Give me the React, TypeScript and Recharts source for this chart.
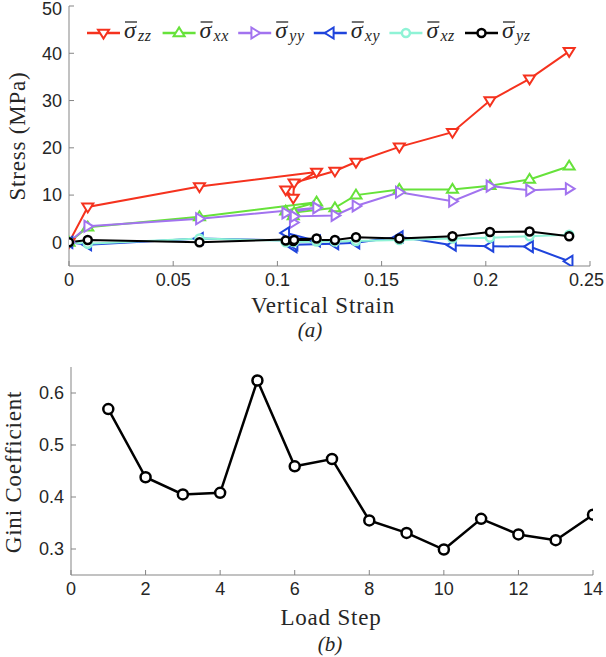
import React from 'react';
import { LineChart, Line, XAxis, YAxis } from 'recharts';

// ---------- Data: panel (a) ----------
const strain = [0, 0.009, 0.0626, 0.1188, 0.104, 0.1076, 0.108, 0.1276, 0.1377, 0.1585, 0.184, 0.202, 0.221, 0.24];
const sigmaZZ = [0, 7.5, 11.8, 14.9, 11.1, 9.4, 12.6, 15.1, 17.0, 20.2, 23.3, 30.0, 34.6, 40.4];
const sigmaXX = [0, 3.2, 5.4, 8.5, 6.6, 5.6, 6.3, 7.3, 10.0, 11.2, 11.2, 12.0, 13.3, 16.1];
const sigmaYY = [0, 3.4, 5.0, 7.3, 6.2, 4.2, 5.5, 5.7, 7.7, 10.6, 8.7, 11.9, 11.05, 11.35];
const sigmaXY = [0, -0.5, 0.8, 0.3, 2.0, -0.9, -0.5, -0.3, -0.1, 1.2, -0.6, -0.8, -0.9, -4.0];
const sigmaXZ = [0, -0.3, 0.8, 0.2, 0.0, 0.1, 0.1, 0.2, 0.3, 0.5, 0.8, 1.0, 1.3, 1.6];
const sigmaYZ = [0, 0.5, 0.0, 0.8, 0.4, 0.3, 0.5, 0.5, 1.1, 0.8, 1.3, 2.2, 2.3, 1.3];
const strainTicks = [0, 0.05, 0.1, 0.15, 0.2, 0.25];
const stressTicks = [0, 10, 20, 30, 40, 50];

// ---------- Data: panel (b) ----------
const loadSteps = [1, 2, 3, 4, 5, 6, 7, 8, 9, 10, 11, 12, 13, 14];
const gini = [0.569, 0.438, 0.405, 0.408, 0.624, 0.459, 0.473, 0.355, 0.331, 0.299, 0.358, 0.328, 0.317, 0.366];
const stepTicks = [0, 2, 4, 6, 8, 10, 12, 14];
const giniTicks = [0.3, 0.4, 0.5, 0.6];

const stressData = strain.map((s, i) => ({
  strain: s,
  zz: sigmaZZ[i],
  xx: sigmaXX[i],
  yy: sigmaYY[i],
  xy: sigmaXY[i],
  xz: sigmaXZ[i],
  yz: sigmaYZ[i],
}));
const giniData = loadSteps.map((s, i) => ({ step: s, gini: gini[i] }));

type Kind = 'down' | 'up' | 'right' | 'left' | 'circle';

const series: { key: string; sub: string; color: string; kind: Kind }[] = [
  { key: 'zz', sub: 'zz', color: '#f5321e', kind: 'down' },
  { key: 'xx', sub: 'xx', color: '#66e23a', kind: 'up' },
  { key: 'yy', sub: 'yy', color: '#a273ef', kind: 'right' },
  { key: 'xy', sub: 'xy', color: '#1f44dc', kind: 'left' },
  { key: 'xz', sub: 'xz', color: '#8ff3d6', kind: 'circle' },
  { key: 'yz', sub: 'yz', color: '#000000', kind: 'circle' },
];

const BOX = '#858585';
const TXT = '#262626';
const SANS = '"Liberation Sans", Arial, Helvetica, sans-serif';
const SERIF = '"Liberation Serif", "Times New Roman", serif';
const TICK_FS = 18;

function MarkerShape({ cx, cy, kind, color, s = 5.5, sw = 2 }: any) {
  if (cx == null || cy == null) return null;
  if (kind === 'circle') {
    return <circle cx={cx} cy={cy} r={s - 1.5} fill="#fff" stroke={color} strokeWidth={sw + 0.5} />;
  }
  let pts = '';
  if (kind === 'down') pts = `${cx - s},${cy - s * 0.6} ${cx + s},${cy - s * 0.6} ${cx},${cy + s}`;
  if (kind === 'up') pts = `${cx - s},${cy + s * 0.6} ${cx + s},${cy + s * 0.6} ${cx},${cy - s}`;
  if (kind === 'right') pts = `${cx - s * 0.6},${cy - s} ${cx - s * 0.6},${cy + s} ${cx + s},${cy}`;
  if (kind === 'left') pts = `${cx + s * 0.6},${cy - s} ${cx + s * 0.6},${cy + s} ${cx - s},${cy}`;
  return <polygon points={pts} fill="#fff" stroke={color} strokeWidth={sw} strokeLinejoin="miter" />;
}

const fmt = (v: number) => String(v);
const approxWidth = (s: string) =>
  s.split('').reduce((w, c) => w + (c === '.' ? 0.278 : 0.556), 0) * TICK_FS;

function XTick(p: any) {
  const label = fmt(p.payload.value);
  const hw = approxWidth(label) / 2;
  const x = Math.min(p.x, 604 - hw);
  return (
    <text x={x} y={p.y} dy="0.71em" textAnchor="middle" fontFamily={SANS} fontSize={TICK_FS} fill={TXT}>
      {label}
    </text>
  );
}

function YTick(p: any) {
  const label = fmt(p.payload.value);
  const y = Math.max(p.y, 9);
  return (
    <text x={p.x} y={y} dy="0.355em" textAnchor="end" fontFamily={SANS} fontSize={TICK_FS} fill={TXT}>
      {label}
    </text>
  );
}

const LEG_X0 = 87;
const LEG_PITCH = 75.6;
const LEG_Y = 33;

function Legend() {
  return (
    <svg width={606} height={60} style={{ position: 'absolute', left: 0, top: 0, pointerEvents: 'none' }}>
      {series.map((s, i) => {
        const x = LEG_X0 + i * LEG_PITCH;
        return (
          <g key={s.key}>
            <line x1={x} y1={LEG_Y} x2={x + 33} y2={LEG_Y} stroke={s.color} strokeWidth={2.5} />
            <MarkerShape cx={x + 16.5} cy={LEG_Y} kind={s.kind} color={s.color} />
            <line x1={x + 38} y1={LEG_Y - 11} x2={x + 50} y2={LEG_Y - 11} stroke={TXT} strokeWidth={1.3} />
            <text x={x + 37} y={LEG_Y + 5} fontFamily={SERIF} fontStyle="italic" fontSize={24} fill={TXT}>
              σ
            </text>
            <text
              x={x + 51}
              y={LEG_Y + 8}
              fontFamily={SERIF}
              fontStyle="italic"
              fontSize={16}
              letterSpacing={0.6}
              fill={TXT}
            >
              {s.sub}
            </text>
          </g>
        );
      })}
    </svg>
  );
}

const labelStyle: React.CSSProperties = {
  position: 'absolute',
  fontFamily: SERIF,
  fontSize: 23,
  letterSpacing: 0.8,
  color: TXT,
  whiteSpace: 'nowrap',
  transform: 'translate(-50%, -50%)',
  lineHeight: 1,
};

export default function App() {
  return (
    <div style={{ position: 'absolute', left: 0, top: 0, width: 606, height: 657, background: '#fff' }}>
      {/* Panel (a) */}
      <div style={{ position: 'absolute', left: 0, top: 0 }}>
        <LineChart width={606} height={345} data={stressData} margin={{ top: 6, right: 16, bottom: 0, left: 0 }}>
          <XAxis
            dataKey="strain"
            type="number"
            domain={[0, 0.25]}
            ticks={strainTicks}
            allowDataOverflow
            height={79}
            stroke={BOX}
            tickSize={-5}
            tickMargin={12}
            tick={<XTick />}
            interval={0}
          />
          <XAxis
            xAxisId="top"
            orientation="top"
            type="number"
            domain={[0, 0.25]}
            ticks={strainTicks}
            tickFormatter={() => ''}
            allowDataOverflow
            height={0}
            stroke={BOX}
            tickSize={-5}
            interval={0}
          />
          <YAxis
            type="number"
            domain={[-5, 50]}
            ticks={stressTicks}
            allowDataOverflow
            width={69}
            stroke={BOX}
            tickSize={-5}
            tickMargin={12}
            tick={<YTick />}
            interval={0}
          />
          <YAxis
            yAxisId="right"
            orientation="right"
            type="number"
            domain={[-5, 50]}
            ticks={stressTicks}
            tickFormatter={() => ''}
            allowDataOverflow
            width={0}
            stroke={BOX}
            tickSize={-5}
            interval={0}
          />
          {series.map((s) => (
            <Line
              key={s.key}
              dataKey={s.key}
              stroke={s.color}
              strokeWidth={2}
              isAnimationActive={false}
              dot={(p: any) => (
                <MarkerShape key={`${s.key}-${p.index}`} cx={p.cx} cy={p.cy} kind={s.kind} color={s.color} />
              )}
              activeDot={false}
            />
          ))}
        </LineChart>
        <Legend />
        <div style={{ ...labelStyle, left: 323, top: 305 }}>Vertical Strain</div>
        <div style={{ ...labelStyle, left: 310, top: 330, fontStyle: 'italic', fontSize: 21, letterSpacing: 0 }}>(a)</div>
        <div style={{ ...labelStyle, left: 17, top: 136, transform: 'translate(-50%, -50%) rotate(-90deg)' }}>
          Stress (MPa)
        </div>
      </div>

      {/* Panel (b) */}
      <div style={{ position: 'absolute', left: 0, top: 360 }}>
        <LineChart width={606} height={297} data={giniData} margin={{ top: 7, right: 13, bottom: 0, left: 0 }}>
          <XAxis
            dataKey="step"
            type="number"
            domain={[0, 14]}
            ticks={stepTicks}
            allowDataOverflow
            height={82}
            stroke={BOX}
            tickSize={-5}
            tickMargin={12}
            tick={<XTick />}
            interval={0}
          />
          <XAxis
            xAxisId="top"
            orientation="top"
            type="number"
            domain={[0, 14]}
            ticks={stepTicks}
            tickFormatter={() => ''}
            allowDataOverflow
            height={0}
            stroke={BOX}
            tickSize={-5}
            interval={0}
          />
          <YAxis
            type="number"
            domain={[0.25, 0.65]}
            ticks={giniTicks}
            allowDataOverflow
            width={71}
            stroke={BOX}
            tickSize={-5}
            tickMargin={12}
            tick={<YTick />}
            interval={0}
          />
          <YAxis
            yAxisId="right"
            orientation="right"
            type="number"
            domain={[0.25, 0.65]}
            ticks={giniTicks}
            tickFormatter={() => ''}
            allowDataOverflow
            width={0}
            stroke={BOX}
            tickSize={-5}
            interval={0}
          />
          <Line
            dataKey="gini"
            stroke="#000"
            strokeWidth={2.5}
            isAnimationActive={false}
            dot={(p: any) => (
              <circle key={`g-${p.index}`} cx={p.cx} cy={p.cy} r={5} fill="#fff" stroke="#000" strokeWidth={2.5} />
            )}
            activeDot={false}
          />
        </LineChart>
        <div style={{ ...labelStyle, left: 331, top: 257 }}>Load Step</div>
        <div style={{ ...labelStyle, left: 330, top: 284, fontStyle: 'italic', fontSize: 21, letterSpacing: 0 }}>(b)</div>
        <div style={{ ...labelStyle, left: 13, top: 112, transform: 'translate(-50%, -50%) rotate(-90deg)' }}>
          Gini Coefficient
        </div>
      </div>
    </div>
  );
}
